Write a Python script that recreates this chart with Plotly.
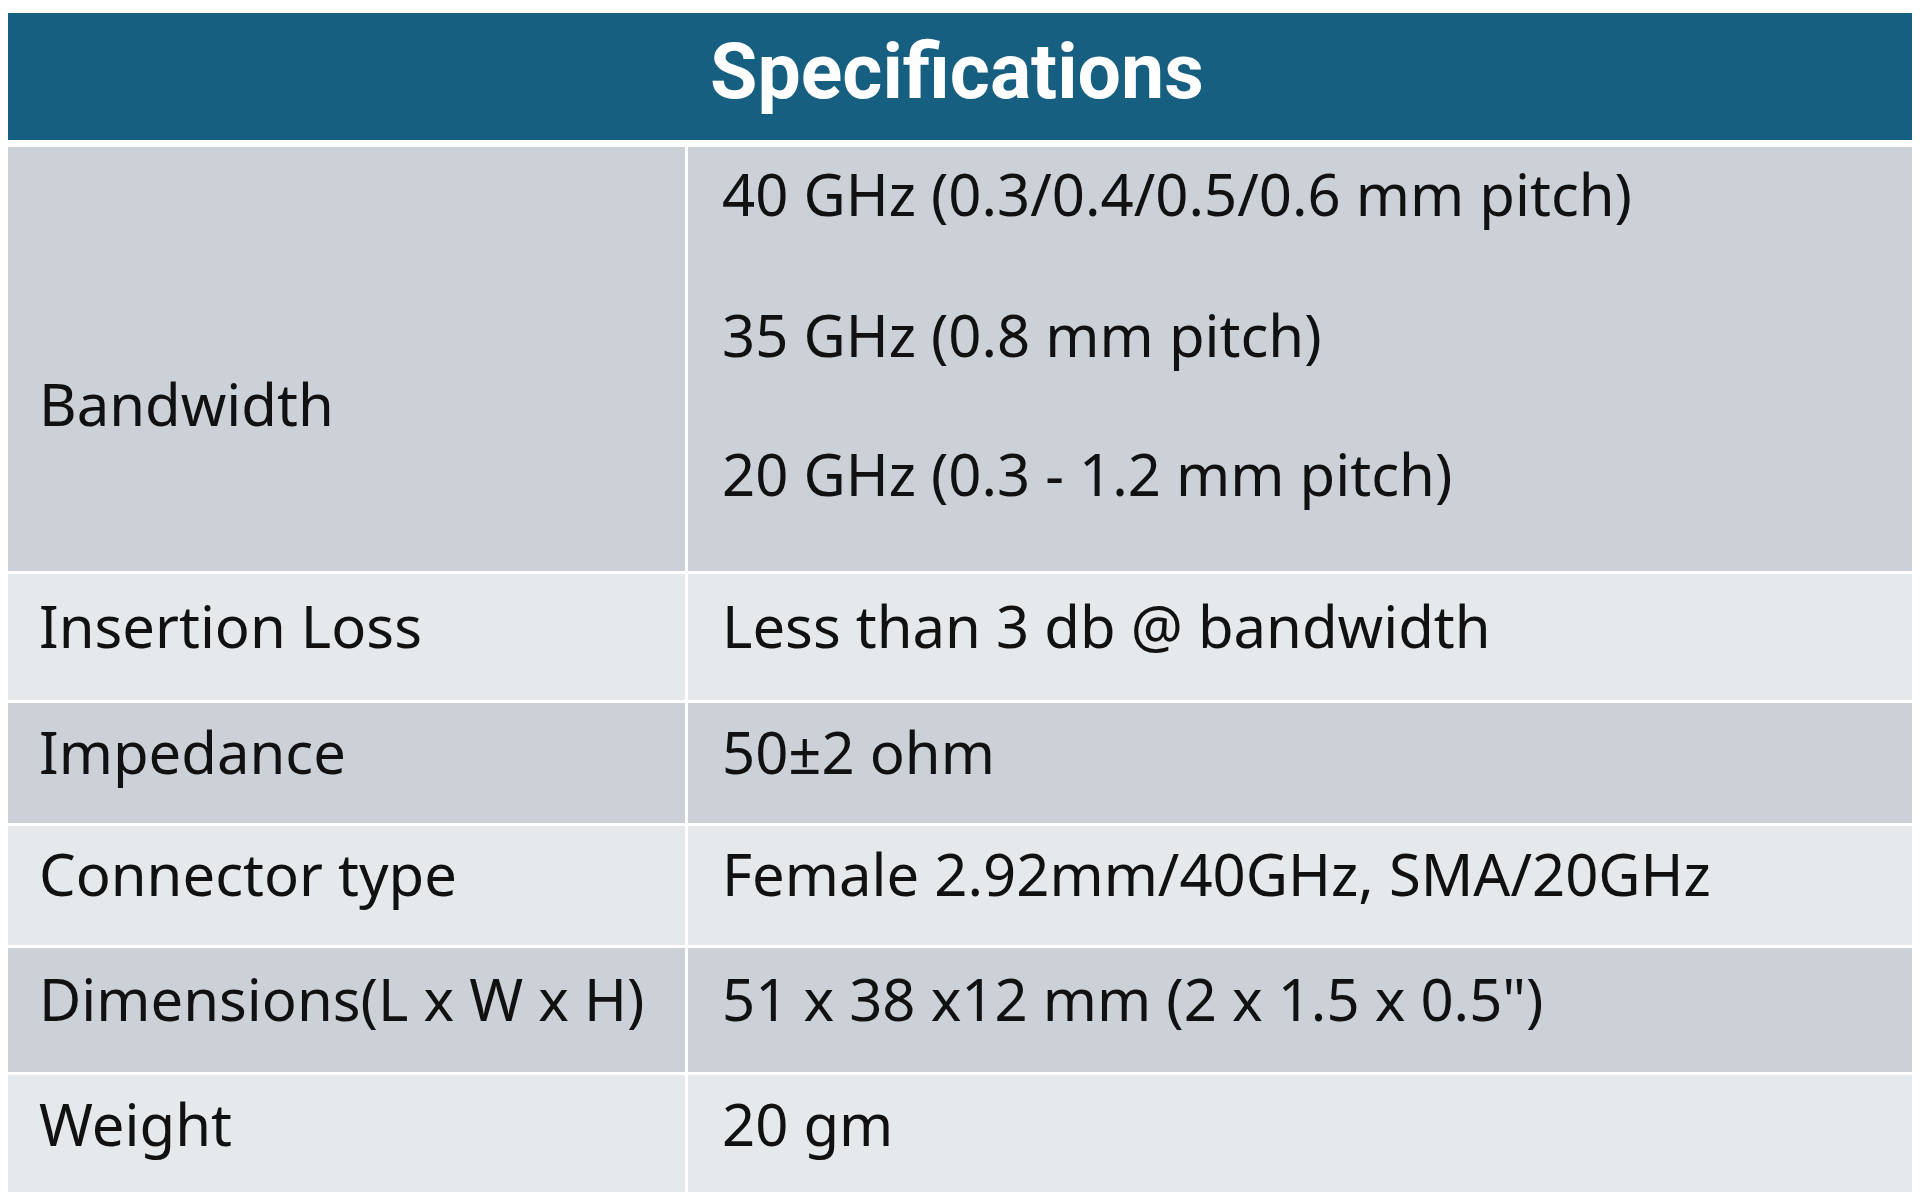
import plotly.graph_objects as go

TITLE = "Specifications"
LABELS = ["Bandwidth", "Insertion Loss", "Impedance", "Connector type",
          "Dimensions(L x W x H)", "Weight"]
VALUES = [
    ["40 GHz (0.3/0.4/0.5/0.6 mm pitch)", "35 GHz (0.8 mm pitch)", "20 GHz (0.3 - 1.2 mm pitch)"],
    ["Less than 3 db @ bandwidth"],
    ["50±2 ohm"],
    ["Female 2.92mm/40GHz, SMA/20GHz"],
    ['51 x 38 x12 mm (2 x 1.5 x 0.5")'],
    ["20 gm"],
]

_HEAD = "#165f80"
_DARK = "#ccd1d8"
_LIGHT = "#e6e9ec"
_TEXT = "#111111"
_FONT = "Noto Sans"

# page body has an 8px margin, so the axes are laid out in window pixels
PAD = 8
W, H = 1920, 1200
X0, XMID, X1 = 2, 686, 1912
HEAD_TOP, HEAD_BOT = 13, 140
ROW_EDGES = [147, 571, 700, 823, 945, 1072, 1196]
BW_LINE_Y = [193, 334, 473]
LABEL_Y0 = 403
GAP = 3

fig = go.Figure()
shapes = []
annos = []

shapes.append(dict(type="rect", xref="x", yref="y", x0=X0, x1=X1, y0=HEAD_TOP, y1=HEAD_BOT,
                   fillcolor=_HEAD, line={"width": 0}, layer="below"))
annos.append(dict(x=(X0 + X1) / 2, y=(HEAD_TOP + HEAD_BOT) / 2 - 5, xref="x", yref="y",
                  text="<b>" + TITLE + "</b>", showarrow=False, xanchor="center", yanchor="middle",
                  font={"family": "Roboto", "size": 77, "color": "white"}))

for i, (lab, vals) in enumerate(zip(LABELS, VALUES)):
    top = ROW_EDGES[i] + (0 if i == 0 else GAP)
    bot = ROW_EDGES[i + 1]
    fill = _DARK if i % 2 == 0 else _LIGHT
    shapes.append(dict(type="rect", xref="x", yref="y", x0=X0, x1=XMID - 1, y0=top, y1=bot,
                       fillcolor=fill, line={"width": 0}, layer="below"))
    shapes.append(dict(type="rect", xref="x", yref="y", x0=XMID + 2, x1=X1, y0=top, y1=bot,
                       fillcolor=fill, line={"width": 0}, layer="below"))
    mid = (top + bot) / 2 - 12
    ly = LABEL_Y0 if len(vals) > 1 else mid
    annos.append(dict(x=37, y=ly, xref="x", yref="y", text=lab, showarrow=False,
                      xanchor="left", yanchor="middle",
                      font={"family": _FONT, "size": 58, "color": _TEXT}))
    ys = BW_LINE_Y if len(vals) > 1 else [mid]
    for v, vy in zip(vals, ys):
        annos.append(dict(x=720, y=vy, xref="x", yref="y", text=v, showarrow=False,
                          xanchor="left", yanchor="middle",
                          font={"family": _FONT, "size": 58, "color": _TEXT}))

fig.update_layout(
    width=W - 2 * PAD, height=H - 2 * PAD,
    margin={"l": 0, "r": 0, "t": 0, "b": 0},
    paper_bgcolor="white", plot_bgcolor="white",
    xaxis={"range": [PAD, W - PAD], "visible": False, "fixedrange": True},
    yaxis={"range": [H - PAD, PAD], "visible": False, "fixedrange": True},
    shapes=shapes, annotations=annos, showlegend=False,
)
fig.write_html("out.html", config={"displayModeBar": False})
